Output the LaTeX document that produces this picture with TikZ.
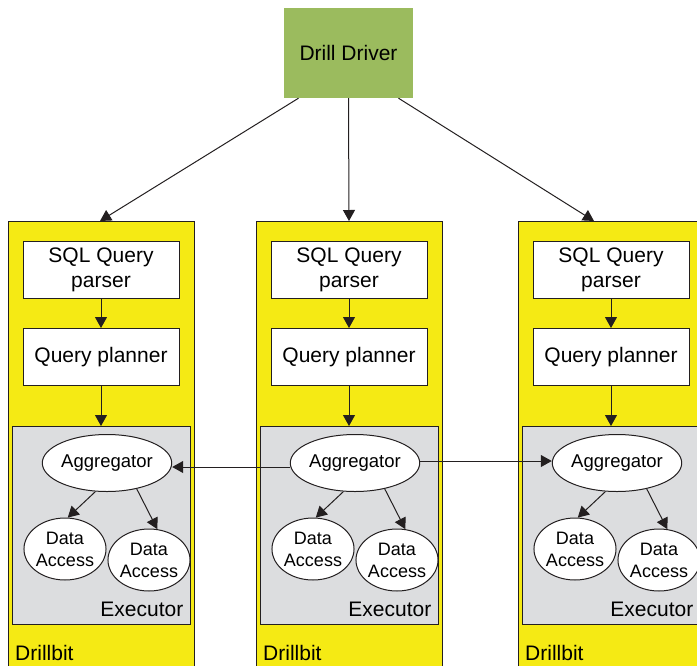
\documentclass[tikz,border=0pt]{standalone}
\usepackage{fontspec}
\setmainfont{Liberation Sans}
\usepackage{xcolor}
\definecolor{drgreen}{RGB}{155,187,94}
\definecolor{dryellow}{RGB}{245,234,20}
\definecolor{drgray}{RGB}{220,221,223}
\definecolor{drline}{RGB}{35,31,32}
\usetikzlibrary{arrows.meta,positioning,shapes.geometric}
\tikzset{
  bit/.style={draw=drline,line width=1pt,fill=dryellow,minimum width=186pt,minimum height=470pt,inner sep=0pt,anchor=north},
  exec/.style={draw=drline,line width=1pt,fill=drgray,minimum width=178pt,minimum height=198pt,inner sep=0pt},
  box/.style={draw=drline,line width=1pt,fill=white,minimum width=156pt,minimum height=57pt,align=center,inner sep=2pt,font=\fontsize{21}{25}\selectfont},
  agg/.style={ellipse,draw=drline,line width=1pt,fill=white,minimum width=122pt,minimum height=57pt,inner sep=0pt,font=\fontsize{18.5}{22}\selectfont},
  acc/.style={ellipse,draw=drline,line width=1pt,fill=white,minimum width=77pt,minimum height=62pt,inner sep=0pt,align=center,font=\fontsize{18}{22}\selectfont},
  lbl/.style={inner sep=0pt,font=\fontsize{21}{24}\selectfont},
  flow/.style={-{Triangle[length=11pt,width=12pt]},draw=drline,line width=1pt},
}
\begin{document}
\begin{tikzpicture}[x=1pt,y=-1pt]
\path[use as bounding box] (0,0) rectangle (697,665);
\clip (0,0) rectangle (697,665);
\node[fill=drgreen,minimum width=129pt,minimum height=90pt,font=\fontsize{21}{24}\selectfont] (driver) at (348.5,53) {Drill Driver};
% drillbits
\node[bit] (bitA) at (101,221) {};
\node[bit] (bitB) at (349,221) {};
\node[bit] (bitC) at (611,221) {};
\node[lbl,anchor=base west] (dbA) at (15,660) {Drillbit};
\node[lbl,anchor=base west] (dbB) at (263,660) {Drillbit};
\node[lbl,anchor=base west] (dbC) at (525,660) {Drillbit};
% parser and planner
\node[box,below=20pt of bitA.north] (sqlA) {SQL Query\\parser};
\node[box,below=29pt of sqlA] (planA) {Query planner};
\node[box,below=20pt of bitB.north] (sqlB) {SQL Query\\parser};
\node[box,below=29pt of sqlB] (planB) {Query planner};
\node[box,below=20pt of bitC.north] (sqlC) {SQL Query\\parser};
\node[box,below=29pt of sqlC] (planC) {Query planner};
% executors
\node[exec,below=40pt of planA] (execA) {};
\node[exec,below=40pt of planB] (execB) {};
\node[exec,below=40pt of planC] (execC) {};
\node[lbl,anchor=south east] (exlA) at ([xshift=-7pt,yshift=8pt]execA.south east) {Executor};
\node[lbl,anchor=south east] (exlB) at ([xshift=-7pt,yshift=8pt]execB.south east) {Executor};
\node[lbl,anchor=south east] (exlC) at ([xshift=-7pt,yshift=8pt]execC.south east) {Executor};
\node[agg] (aggA) at (107,463) {Aggregator};
\node[agg] (aggB) at (355,463) {Aggregator};
\node[agg] (aggC) at (617,463) {Aggregator};
\node[acc] (daA1) at (65,549) {Data\\Access};
\node[acc] (daA2) at (149,560) {Data\\Access};
\node[acc] (daB1) at (313,549) {Data\\Access};
\node[acc] (daB2) at (397,560) {Data\\Access};
\node[acc] (daC1) at (575,549) {Data\\Access};
\node[acc] (daC2) at (659,560) {Data\\Access};
% flows
\draw[flow] ([xshift=-50pt]driver.south) -- ([xshift=-1pt]bitA.north);
\draw[flow] (driver.south) -- (bitB.north);
\draw[flow] ([xshift=50pt]driver.south) -- ([xshift=-17pt]bitC.north);
\draw[flow] (sqlA) -- (planA);
\draw[flow] (sqlB) -- (planB);
\draw[flow] (sqlC) -- (planC);
\draw[flow] (planA) -- (execA);
\draw[flow] (planB) -- (execB);
\draw[flow] (planC) -- (execC);
\draw[flow] (aggA.-112) -- (daA1.85);
\draw[flow] (aggA.-41) -- (daA2.75);
\draw[flow] (aggB.-112) -- (daB1.85);
\draw[flow] (aggB.-41) -- (daB2.75);
\draw[flow] (aggC.-112) -- (daC1.85);
\draw[flow] (aggC.-41) -- (daC2.75);
\draw[flow] ([yshift=-4pt]aggB.west) -- ([yshift=-4pt]aggA.east);
\draw[flow] ([yshift=2pt]aggB.east) -- ([yshift=2pt]aggC.west);
\end{tikzpicture}
\end{document}
